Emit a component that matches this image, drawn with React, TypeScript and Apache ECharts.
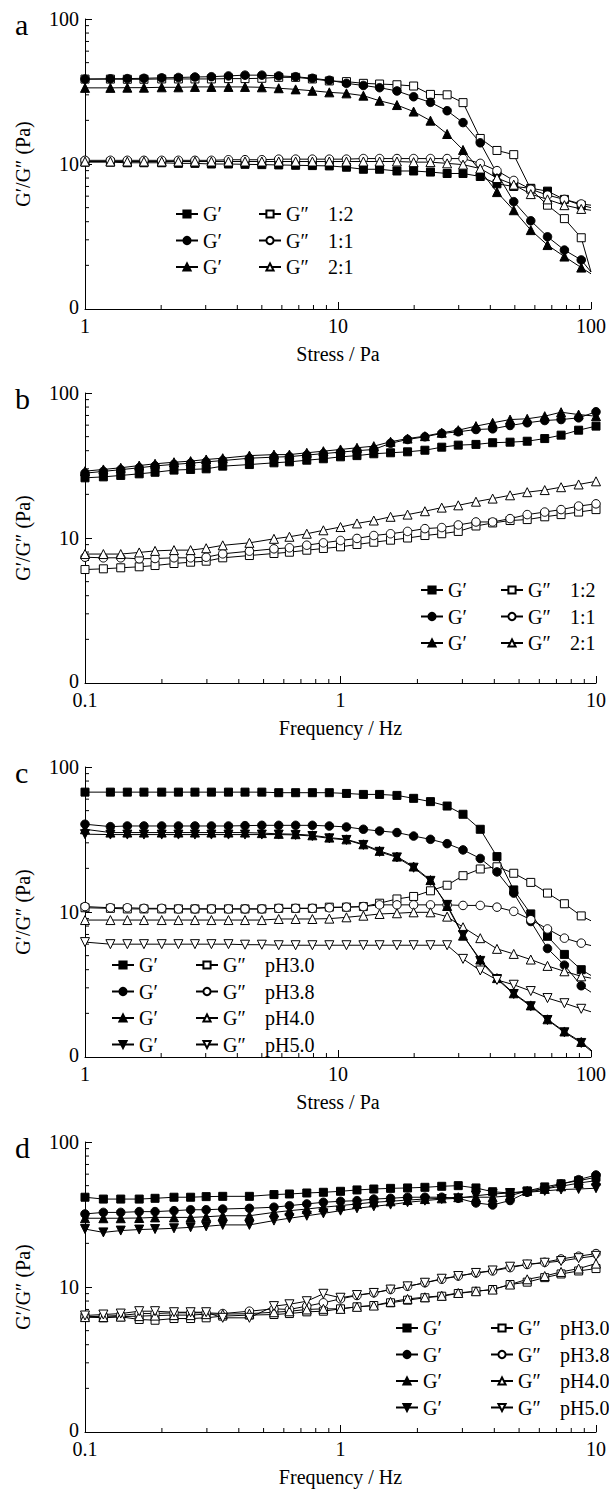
import React, { useEffect, useRef } from "react";
import * as echarts from "echarts";

// ---------- data ----------
const STRESS = [1.0, 1.26, 1.47, 1.71, 2.01, 2.34, 2.72, 3.16, 3.69, 4.29, 5.0, 5.83, 6.8, 7.92, 9.24, 10.8, 12.6, 14.6, 17.1, 19.9, 23.2, 27.0, 31.2, 36.5, 42.5, 49.5, 57.8, 67.3, 78.5, 91.5, 100];
const FREQ = [0.1, 0.118, 0.138, 0.163, 0.188, 0.223, 0.259, 0.298, 0.346, 0.44, 0.549, 0.631, 0.738, 0.857, 1.0, 1.16, 1.35, 1.57, 1.83, 2.14, 2.49, 2.89, 3.39, 3.94, 4.61, 5.38, 6.3, 7.3, 8.55, 10];

// panel a: stress sweep, ratios
const A_GP_12 = [10.3, 10.3, 10.2, 10.2, 10.2, 10.1, 10.1, 10.0, 10.0, 9.95, 9.9, 9.85, 9.8, 9.75, 9.7, 9.5, 9.2, 9.2, 8.95, 8.95, 8.8, 8.6, 8.6, 8.2, 7.3, 7.0, 6.8, 6.5, 5.7, 5.2, 5.0];
const A_GPP_12 = [38.5, 38.5, 38.4, 38.4, 38.6, 38.6, 38.6, 38.6, 38.8, 38.8, 39.0, 39.6, 39.6, 38.6, 37.4, 37.0, 36.0, 35.6, 35.2, 34.5, 30.2, 30.0, 26.5, 15.0, 12.4, 11.6, 6.7, 5.2, 4.2, 3.1, 1.8];
const A_GP_11 = [38.5, 38.7, 38.8, 39.0, 39.3, 39.5, 39.8, 40.0, 40.5, 41.0, 41.0, 40.5, 40.0, 39.0, 37.8, 36.0, 34.8, 33.6, 31.9, 29.1, 26.6, 23.3, 19.3, 14.0, 8.6, 5.5, 4.06, 3.15, 2.55, 2.18, 1.8];
const A_GPP_11 = [10.6, 10.6, 10.6, 10.6, 10.6, 10.6, 10.6, 10.6, 10.7, 10.7, 10.7, 10.8, 10.8, 10.8, 10.8, 10.8, 10.9, 10.9, 10.9, 10.9, 10.9, 10.9, 10.9, 10.1, 9.0, 7.7, 6.7, 6.1, 5.7, 5.3, 5.2];
const A_GP_21 = [33.5, 33.5, 33.6, 33.6, 33.8, 33.8, 34.0, 34.0, 34.0, 34.0, 33.8, 33.3, 32.7, 32.0, 31.2, 30.7, 29.6, 27.3, 25.5, 23.0, 19.9, 16.1, 12.5, 9.0, 6.4, 4.8, 3.5, 2.76, 2.3, 1.93, 1.75];
const A_GPP_21 = [10.4, 10.4, 10.4, 10.4, 10.4, 10.4, 10.4, 10.4, 10.4, 10.4, 10.4, 10.4, 10.4, 10.4, 10.4, 10.4, 10.4, 10.4, 10.4, 10.3, 10.3, 10.1, 9.9, 9.3, 8.0, 7.2, 6.2, 5.7, 5.2, 4.9, 4.8];

// panel b: frequency sweep, ratios
const B_GP_12 = [26.0, 26.4, 27.0, 27.7, 28.4, 29.4, 29.7, 30.0, 31.3, 32.1, 33.0, 33.5, 34.4, 35.2, 36.3, 37.0, 38.1, 38.7, 39.3, 40.3, 42.3, 43.7, 44.2, 45.4, 45.8, 46.5, 48.5, 51.2, 55.4, 59.1];
const B_GPP_12 = [6.06, 6.13, 6.23, 6.33, 6.46, 6.67, 6.81, 6.92, 7.3, 7.57, 7.82, 7.98, 8.24, 8.47, 8.69, 9.02, 9.35, 9.66, 10.0, 10.4, 10.7, 11.1, 12.1, 12.7, 13.2, 13.4, 14.0, 14.5, 15.1, 15.7];
const B_GP_11 = [28.0, 28.8, 29.6, 30.5, 31.4, 32.2, 32.8, 33.5, 34.2, 35.5, 36.1, 36.4, 37.3, 38.2, 39.1, 40.0, 40.8, 45.0, 47.8, 49.9, 52.6, 54.0, 56.0, 56.6, 59.7, 62.3, 64.6, 65.6, 67.4, 74.2];
const B_GPP_11 = [7.37, 7.3, 7.3, 7.19, 7.22, 7.3, 7.3, 7.37, 7.78, 8.11, 8.42, 8.56, 8.92, 9.26, 9.61, 9.93, 10.4, 10.7, 11.1, 11.6, 11.8, 12.3, 12.9, 12.9, 13.6, 14.5, 15.1, 15.7, 16.6, 17.2];
const B_GP_21 = [28.9, 29.7, 30.5, 31.6, 32.5, 33.3, 33.9, 34.8, 35.5, 37.0, 37.6, 37.6, 38.7, 39.7, 40.8, 41.9, 43.0, 46.1, 48.5, 50.4, 53.2, 55.4, 59.1, 62.3, 65.6, 66.4, 69.2, 73.7, 71.0, 69.2];
const B_GPP_21 = [7.75, 7.75, 7.75, 7.95, 8.15, 8.25, 8.25, 8.5, 8.9, 9.26, 9.87, 10.2, 10.7, 11.3, 11.9, 12.6, 13.2, 14.0, 14.5, 15.3, 16.2, 16.8, 17.8, 18.7, 19.7, 20.7, 21.4, 22.4, 23.4, 24.6];

// panel c: stress sweep, pH
const C_GP_30 = [67.1, 67.1, 67.1, 67.1, 67.1, 67.1, 67.1, 67.1, 67.1, 67.1, 67.1, 66.5, 66.5, 66.5, 66.5, 65.7, 64.7, 64.7, 63.7, 60.8, 57.7, 53.8, 47.2, 37.2, 24.1, 14.2, 9.7, 6.8, 5.1, 4.0, 3.65];
const C_GPP_30 = [10.7, 10.6, 10.5, 10.5, 10.5, 10.5, 10.5, 10.5, 10.5, 10.5, 10.5, 10.6, 10.6, 10.6, 10.8, 10.8, 10.9, 11.5, 12.3, 12.8, 14.0, 15.3, 17.8, 19.8, 20.5, 18.5, 16.0, 13.5, 11.4, 9.4, 8.7];
const C_GP_38 = [40.3, 38.8, 39.2, 39.2, 39.2, 39.2, 39.2, 39.2, 39.2, 39.4, 39.6, 39.6, 39.6, 39.6, 39.2, 38.6, 37.2, 36.2, 35.3, 33.4, 31.7, 29.6, 26.8, 23.4, 18.9, 13.5, 8.6, 5.6, 4.3, 3.1, 2.8];
const C_GPP_38 = [10.9, 10.7, 10.7, 10.6, 10.6, 10.5, 10.5, 10.5, 10.5, 10.5, 10.5, 10.6, 10.6, 10.6, 10.7, 10.8, 10.9, 11.2, 11.2, 11.2, 11.2, 11.2, 11.1, 11.1, 10.8, 10.1, 8.85, 7.64, 6.6, 6.1, 5.87];
const C_GP_40 = [37.2, 35.3, 35.3, 35.3, 35.3, 35.3, 35.3, 35.3, 35.3, 35.3, 35.0, 34.6, 34.4, 33.8, 32.6, 31.7, 29.3, 26.4, 24.1, 20.6, 16.6, 11.0, 6.87, 4.7, 3.5, 2.75, 2.27, 1.82, 1.5, 1.27, 1.12];
const C_GPP_40 = [8.8, 8.8, 8.8, 8.8, 8.8, 8.8, 8.8, 8.8, 8.8, 8.8, 8.8, 8.95, 8.95, 8.95, 9.0, 9.19, 9.43, 9.69, 9.8, 9.95, 9.95, 9.29, 7.85, 6.6, 5.57, 5.14, 4.7, 4.25, 3.9, 3.6, 3.5];
const C_GP_50 = [34.4, 34.2, 34.2, 34.2, 34.2, 34.2, 34.2, 34.2, 34.2, 34.2, 34.2, 34.2, 34.0, 33.4, 32.2, 31.4, 29.0, 26.0, 23.8, 20.2, 16.4, 11.2, 6.95, 4.6, 3.45, 2.72, 2.24, 1.8, 1.48, 1.25, 1.1];
const C_GPP_50 = [6.2, 6.0, 6.0, 6.0, 6.0, 6.0, 6.0, 6.0, 6.0, 5.95, 5.95, 5.9, 5.9, 5.9, 5.9, 5.9, 5.9, 5.9, 5.9, 5.9, 5.9, 5.9, 4.75, 3.95, 3.4, 3.15, 2.85, 2.55, 2.35, 2.15, 2.05];

// panel d: frequency sweep, pH
const D_GP_30 = [41.6, 40.4, 40.4, 40.4, 40.9, 41.6, 41.6, 42.0, 42.2, 42.2, 43.4, 43.8, 44.5, 45.0, 45.7, 46.7, 47.4, 47.9, 48.2, 48.7, 49.5, 50.0, 48.2, 45.4, 44.5, 46.0, 49.0, 51.5, 54.1, 57.1];
const D_GPP_30 = [6.23, 6.13, 6.23, 5.97, 5.9, 6.06, 6.06, 6.13, 6.3, 6.4, 6.46, 6.56, 6.74, 6.81, 7.07, 7.3, 7.45, 7.78, 8.11, 8.43, 8.64, 9.02, 9.35, 9.61, 10.4, 10.8, 11.6, 12.3, 12.9, 13.4];
const D_GP_38 = [31.9, 32.7, 32.7, 33.1, 33.1, 33.6, 34.1, 34.1, 34.5, 34.9, 35.5, 36.4, 37.4, 38.4, 39.0, 39.4, 40.4, 40.9, 41.6, 41.6, 41.6, 40.9, 38.0, 36.8, 39.5, 45.0, 47.4, 51.3, 55.0, 59.2];
const D_GPP_38 = [6.23, 6.29, 6.36, 6.56, 6.56, 6.64, 6.64, 6.64, 6.56, 6.81, 7.07, 7.0, 7.38, 7.78, 8.28, 8.74, 9.12, 9.61, 10.1, 10.7, 11.3, 11.9, 12.5, 12.9, 13.6, 14.3, 14.8, 15.6, 16.3, 17.0];
const D_GP_40 = [29.8, 29.8, 29.8, 29.9, 30.2, 30.2, 30.2, 30.5, 31.0, 31.0, 32.7, 33.6, 34.5, 35.5, 36.4, 37.4, 38.4, 39.0, 39.8, 40.4, 40.9, 41.6, 41.6, 41.6, 42.6, 46.0, 47.5, 49.5, 52.1, 54.1];
const D_GPP_40 = [6.2, 6.2, 6.25, 6.3, 6.35, 6.4, 6.4, 6.5, 6.5, 6.55, 6.7, 6.8, 7.0, 7.07, 7.07, 7.3, 7.45, 7.9, 8.28, 8.5, 8.7, 9.1, 9.35, 9.6, 10.4, 11.3, 11.9, 12.7, 13.4, 14.5];
const D_GP_50 = [25.1, 23.8, 24.5, 24.9, 25.1, 25.4, 25.8, 26.2, 26.8, 26.8, 28.7, 29.8, 31.0, 32.2, 33.6, 34.9, 36.0, 37.0, 38.4, 39.4, 40.4, 40.9, 42.6, 43.8, 44.5, 45.0, 46.0, 47.0, 47.4, 48.0];
const D_GPP_50 = [6.36, 6.46, 6.56, 6.81, 6.81, 6.7, 6.7, 6.7, 6.13, 6.13, 7.38, 7.6, 7.98, 8.98, 8.43, 8.8, 9.1, 9.6, 10.1, 10.7, 11.4, 11.9, 12.5, 13.0, 13.8, 14.3, 14.7, 15.1, 15.8, 16.4];

const RATIO_LABELS = ["1:2", "1:1", "2:1"];
const PH_LABELS = ["pH3.0", "pH3.8", "pH4.0", "pH5.0"];
const PANEL_LETTERS = ["a", "b", "c", "d"];
const X_TITLES = ["Stress / Pa", "Frequency / Hz", "Stress / Pa", "Frequency / Hz"];
const Y_TITLE = "G\u2032/G\u2033 (Pa)";
const STRESS_MINOR = [2, 3, 4, 5, 6, 7, 8, 9, 20, 30, 40, 50, 60, 70, 80, 90];
const FREQ_MINOR = [0.2, 0.3, 0.4, 0.5, 0.6, 0.7, 0.8, 0.9, 2, 3, 4, 5, 6, 7, 8, 9];
const Y_MINOR = [2, 3, 4, 5, 6, 7, 8, 9, 20, 30, 40, 50, 60, 70, 80, 90];

// ---------- styling / layout ----------
const FONT = "Liberation Serif, Times New Roman, serif";
const INV_TRI = "path://M0,0 L10,0 L5,8.66 Z";
const SHAPES = ["rect", "circle", "triangle", INV_TRI];
const SIZES = [8, 8.5, 9, 9];

const PANELS = [
  { x: STRESS, xMin: 1, xMax: 100, xMinor: STRESS_MINOR, labels: RATIO_LABELS,
    gp: [A_GP_12, A_GP_11, A_GP_21], gpp: [A_GPP_12, A_GPP_11, A_GPP_21], endNoMarker: true,
    top: 19, legLeft: [175, 258], legTop: 204 },
  { x: FREQ, xMin: 0.1, xMax: 10, xMinor: FREQ_MINOR, labels: RATIO_LABELS,
    gp: [B_GP_12, B_GP_11, B_GP_21], gpp: [B_GPP_12, B_GPP_11, B_GPP_21], endNoMarker: false,
    top: 393, legLeft: [420, 500], legTop: 580 },
  { x: STRESS, xMin: 1, xMax: 100, xMinor: STRESS_MINOR, labels: PH_LABELS,
    gp: [C_GP_30, C_GP_38, C_GP_40, C_GP_50], gpp: [C_GPP_30, C_GPP_38, C_GPP_40, C_GPP_50], endNoMarker: true,
    top: 767, legLeft: [111, 195], legTop: 955 },
  { x: FREQ, xMin: 0.1, xMax: 10, xMinor: FREQ_MINOR, labels: PH_LABELS,
    gp: [D_GP_30, D_GP_38, D_GP_40, D_GP_50], gpp: [D_GPP_30, D_GPP_38, D_GPP_40, D_GPP_50], endNoMarker: false,
    top: 1142, legLeft: [395, 490], legTop: 1318 },
];

const GRID_LEFT = 85;
const GRID_W = 511;
const GRID_H = 290;
const FS = 20;

function buildOption() {
  const grids: any[] = [];
  const xAxes: any[] = [];
  const yAxes: any[] = [];
  const series: any[] = [];
  const legends: any[] = [];
  const graphics: any[] = [];
  const labelMap: Record<string, string> = {};

  PANELS.forEach((p, i) => {
    grids.push({ left: GRID_LEFT, top: p.top, width: GRID_W, height: GRID_H, containLabel: false });
    xAxes.push({
      type: "log", logBase: 10, gridIndex: i, min: p.xMin, max: p.xMax,
      axisLine: { show: true, lineStyle: { color: "#000", width: 1 } },
      axisTick: { show: true, inside: true, length: 7, lineStyle: { color: "#000", width: 1 } },
      axisLabel: {
        color: "#000", fontFamily: FONT, fontSize: FS, margin: 10, lineHeight: 14,
        formatter: (v: number) => (v < 0.5 ? "0.1" : String(Math.round(v))),
      },
      splitLine: { show: false },
      name: X_TITLES[i], nameLocation: "middle", nameGap: 35,
      nameTextStyle: { color: "#000", fontFamily: FONT, fontSize: FS, fontWeight: "normal" },
    });
    yAxes.push({
      type: "log", logBase: 10, gridIndex: i, min: 1, max: 100,
      axisLine: { show: true, lineStyle: { color: "#000", width: 1 } },
      axisTick: { show: true, inside: true, length: 7, lineStyle: { color: "#000", width: 1 } },
      axisLabel: {
        color: "#000", fontFamily: FONT, fontSize: FS, margin: 6, lineHeight: 14,
        formatter: (v: number) => (v < 1.5 ? "{z|0}" : String(Math.round(v))),
        rich: { z: { color: "#000", fontFamily: FONT, fontSize: FS, lineHeight: 14, padding: [0, 0, 5, 0] } },
      },
      splitLine: { show: false },
      name: Y_TITLE, nameLocation: "middle", nameGap: 52,
      nameTextStyle: { color: "#000", fontFamily: FONT, fontSize: FS, fontWeight: "normal" },
    });

    // minor ticks drawn through the axes' own scales
    series.push({
      type: "custom", xAxisIndex: i, yAxisIndex: i, silent: true, z: 1,
      data: p.xMinor.map((v) => [v, 1]),
      renderItem: (_params: any, api: any) => {
        const pt = api.coord([api.value(0), api.value(1)]);
        return { type: "line", shape: { x1: pt[0], y1: pt[1], x2: pt[0], y2: pt[1] - 4 }, style: { stroke: "#000", lineWidth: 1 } };
      },
    });
    series.push({
      type: "custom", xAxisIndex: i, yAxisIndex: i, silent: true, z: 1,
      data: Y_MINOR.map((v) => [p.xMin, v]),
      renderItem: (_params: any, api: any) => {
        const pt = api.coord([api.value(0), api.value(1)]);
        return { type: "line", shape: { x1: pt[0], y1: pt[1], x2: pt[0] + 4, y2: pt[1] }, style: { stroke: "#000", lineWidth: 1 } };
      },
    });

    const leftNames: string[] = [];
    const rightNames: string[] = [];
    const last = p.x.length - 1;
    const mk = (arr: number[]) =>
      p.x.map((xv, k) => (k === last && p.endNoMarker ? { value: [xv, arr[k]], symbol: "none" } : [xv, arr[k]]));

    p.labels.forEach((lab, j) => {
      const n1 = `${PANEL_LETTERS[i]}-Gp-${lab}`;
      const n2 = `${PANEL_LETTERS[i]}-Gpp-${lab}`;
      labelMap[n1] = "G\u2032";
      labelMap[n2] = `{g|G\u2033}{r|${lab}}`;
      leftNames.push(n1);
      rightNames.push(n2);
      series.push({
        type: "line", name: n1, xAxisIndex: i, yAxisIndex: i, z: 3,
        data: mk(p.gp[j]), symbol: SHAPES[j], symbolSize: SIZES[j], showAllSymbol: true,
        itemStyle: { color: "#000", borderColor: "#000", borderWidth: 1 },
        lineStyle: { color: "#000", width: 1 },
        emphasis: { disabled: true },
      });
      series.push({
        type: "line", name: n2, xAxisIndex: i, yAxisIndex: i, z: 3,
        data: mk(p.gpp[j]), symbol: SHAPES[j], symbolSize: SIZES[j], showAllSymbol: true,
        itemStyle: { color: "#fff", borderColor: "#000", borderWidth: 1 },
        lineStyle: { color: "#000", width: 1 },
        emphasis: { disabled: true },
      });
    });

    const legBase = {
      orient: "vertical", top: p.legTop, itemWidth: 22, itemHeight: 9, itemGap: 6.5,
      selectedMode: false, padding: 0,
      formatter: (name: string) => labelMap[name],
      textStyle: {
        color: "#000", fontFamily: FONT, fontSize: FS, lineHeight: 20,
        rich: {
          g: { width: 42, color: "#000", fontFamily: FONT, fontSize: FS, lineHeight: 20 },
          r: { color: "#000", fontFamily: FONT, fontSize: FS, lineHeight: 20 },
        },
      },
    };
    legends.push({ ...legBase, left: p.legLeft[0], data: leftNames });
    legends.push({ ...legBase, left: p.legLeft[1], data: rightNames });

    graphics.push({
      type: "text", left: 15, top: p.top - 10,
      style: { text: PANEL_LETTERS[i], fill: "#000", font: `30px ${FONT}` },
    });
  });

  return {
    animation: false,
    backgroundColor: "#fff",
    textStyle: { fontFamily: FONT },
    grid: grids,
    xAxis: xAxes,
    yAxis: yAxes,
    legend: legends,
    series,
    graphic: graphics,
  };
}

export default function App() {
  const ref = useRef<HTMLDivElement>(null);
  useEffect(() => {
    document.body.style.margin = "0";
    if (!ref.current) return;
    const chart = echarts.init(ref.current, null, { renderer: "svg" });
    chart.setOption(buildOption() as any);
    return () => chart.dispose();
  }, []);
  return <div ref={ref} style={{ width: 609, height: 1496, background: "#fff" }} />;
}
